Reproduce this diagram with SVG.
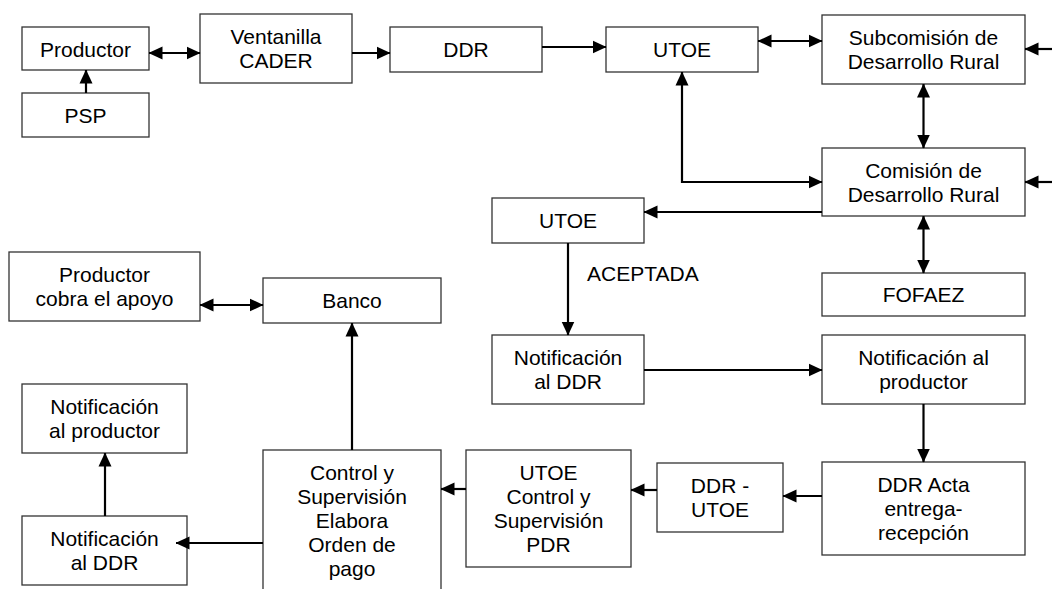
<svg xmlns="http://www.w3.org/2000/svg" width="1052" height="589" viewBox="0 0 1052 589">
<defs>
<style>
.box{fill:#fff;stroke:#333;stroke-width:1.3}
.t{font-family:"Liberation Sans",Arial,sans-serif;font-size:21px;fill:#000;text-anchor:middle}
.lbl{font-family:"Liberation Sans",Arial,sans-serif;font-size:21px;fill:#000}
.c{fill:none;stroke:#000;stroke-width:2.2}
.a{marker-end:url(#ah)}
.b{marker-start:url(#ah);marker-end:url(#ah)}
</style>
<marker id="ah" markerUnits="userSpaceOnUse" viewBox="0 0 14 14" markerWidth="14" markerHeight="14" refX="13.5" refY="7" orient="auto-start-reverse">
<path d="M0,0.5 L14,7 L0,13.5 z" fill="#000"/>
</marker>
</defs>
<rect width="1052" height="589" fill="#fff"/>
<g id="productor"><rect class="box" x="22" y="27" width="127" height="43"/><text class="t" x="85.5" y="56.5">Productor</text></g>
<g id="psp"><rect class="box" x="22" y="93" width="127" height="44"/><text class="t" x="85.5" y="122.5">PSP</text></g>
<g id="ventanilla"><rect class="box" x="200" y="14" width="152" height="69"/><text class="t" x="276" y="44">Ventanilla</text><text class="t" x="276" y="68">CADER</text></g>
<g id="ddr"><rect class="box" x="390" y="27" width="152" height="45"/><text class="t" x="466" y="57">DDR</text></g>
<g id="utoe"><rect class="box" x="606" y="27" width="152" height="45"/><text class="t" x="682" y="57">UTOE</text></g>
<g id="subcomision"><rect class="box" x="822" y="15" width="203" height="69"/><text class="t" x="923.5" y="45">Subcomisión de</text><text class="t" x="923.5" y="69">Desarrollo Rural</text></g>
<g id="comision"><rect class="box" x="822" y="148" width="203" height="68"/><text class="t" x="923.5" y="177.5">Comisión de</text><text class="t" x="923.5" y="201.5">Desarrollo Rural</text></g>
<g id="utoe2"><rect class="box" x="492" y="198" width="152" height="45"/><text class="t" x="568" y="228">UTOE</text></g>
<g id="aceptada"><text class="lbl" x="587" y="281">ACEPTADA</text></g>
<g id="fofaez"><rect class="box" x="822" y="273" width="203" height="43"/><text class="t" x="923.5" y="302">FOFAEZ</text></g>
<g id="notif-ddr"><rect class="box" x="492" y="335" width="152" height="69"/><text class="t" x="568" y="365">Notificación</text><text class="t" x="568" y="389">al DDR</text></g>
<g id="notif-prod"><rect class="box" x="822" y="335" width="203" height="69"/><text class="t" x="923.5" y="365">Notificación al</text><text class="t" x="923.5" y="389">productor</text></g>
<g id="productor-cobra"><rect class="box" x="9" y="252" width="191" height="69"/><text class="t" x="104.5" y="282">Productor</text><text class="t" x="104.5" y="306">cobra el apoyo</text></g>
<g id="banco"><rect class="box" x="263" y="278" width="178" height="45"/><text class="t" x="352" y="308">Banco</text></g>
<g id="notif-prod-left"><rect class="box" x="22" y="384" width="165" height="69"/><text class="t" x="104.5" y="414">Notificación</text><text class="t" x="104.5" y="438">al productor</text></g>
<g id="notif-ddr-left"><rect class="box" x="22" y="516" width="165" height="69"/><text class="t" x="104.5" y="546">Notificación</text><text class="t" x="104.5" y="570">al DDR</text></g>
<g id="control"><rect class="box" x="263" y="450" width="178" height="150"/><text class="t" x="352" y="480">Control y</text><text class="t" x="352" y="504">Supervisión</text><text class="t" x="352" y="528">Elabora</text><text class="t" x="352" y="552">Orden de</text><text class="t" x="352" y="576">pago</text></g>
<g id="utoe-control"><rect class="box" x="466" y="450" width="165" height="117"/><text class="t" x="548.5" y="480">UTOE</text><text class="t" x="548.5" y="504">Control y</text><text class="t" x="548.5" y="528">Supervisión</text><text class="t" x="548.5" y="552">PDR</text></g>
<g id="ddr-utoe"><rect class="box" x="657" y="463" width="126" height="69"/><text class="t" x="720" y="493">DDR -</text><text class="t" x="720" y="517">UTOE</text></g>
<g id="ddr-acta"><rect class="box" x="822" y="462" width="203" height="93"/><text class="t" x="923.5" y="492">DDR Acta</text><text class="t" x="923.5" y="516">entrega-</text><text class="t" x="923.5" y="540">recepción</text></g>
<g id="connectors">
<line class="c a" x1="86" y1="93" x2="86" y2="70"/>
<line class="c b" x1="149" y1="53" x2="200" y2="53"/>
<line class="c a" x1="352" y1="53" x2="390" y2="53"/>
<line class="c a" x1="542" y1="47" x2="606" y2="47"/>
<line class="c b" x1="758" y1="41" x2="822" y2="41"/>
<line class="c a" x1="1052" y1="49" x2="1025" y2="49"/>
<line class="c b" x1="923.5" y1="84" x2="923.5" y2="148"/>
<path class="c b" d="M682,72 V182 H822"/>
<line class="c a" x1="1052" y1="182" x2="1025" y2="182"/>
<line class="c a" x1="822" y1="212" x2="644" y2="212"/>
<line class="c b" x1="923.5" y1="216" x2="923.5" y2="273"/>
<line class="c a" x1="568" y1="243" x2="568" y2="335"/>
<line class="c a" x1="644" y1="370" x2="822" y2="370"/>
<line class="c a" x1="923.5" y1="404" x2="923.5" y2="462"/>
<line class="c a" x1="822" y1="496" x2="783" y2="496"/>
<line class="c a" x1="657" y1="490" x2="631" y2="490"/>
<line class="c a" x1="466" y1="489" x2="441" y2="489"/>
<line class="c a" x1="352" y1="450" x2="352" y2="323"/>
<line class="c a" x1="263" y1="543" x2="176" y2="543"/>
<line class="c a" x1="105" y1="516" x2="105" y2="453"/>
<line class="c b" x1="200" y1="305" x2="263" y2="305"/>
</g>
</svg>
